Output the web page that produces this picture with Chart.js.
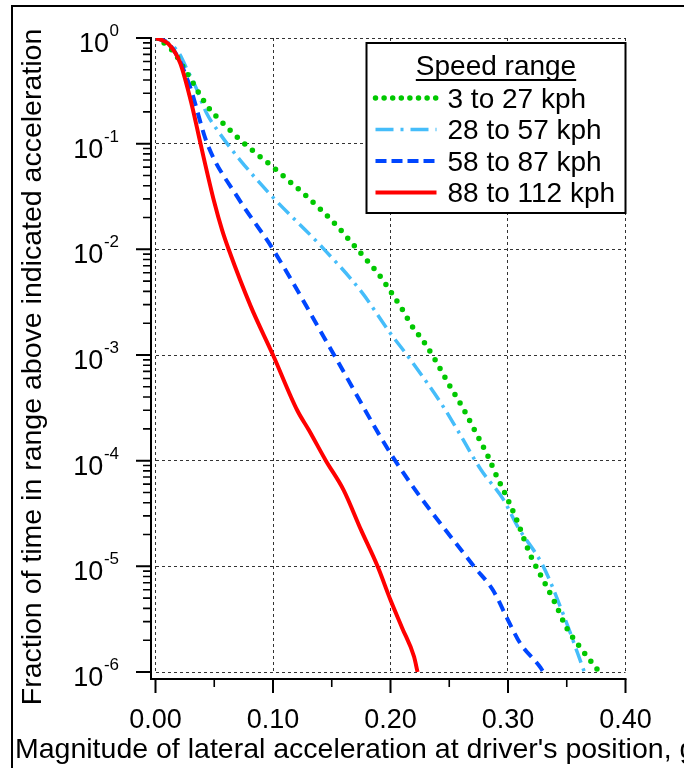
<!DOCTYPE html>
<html><head><meta charset="utf-8">
<script src="https://cdn.jsdelivr.net/npm/chart.js@4.4.1/dist/chart.umd.min.js"></script>
<style>html,body{margin:0;padding:0;background:#fff;overflow:hidden}canvas{display:block}</style>
</head><body>
<canvas id="c" width="684" height="768" style="width:684px;height:768px"></canvas>
<script>
// ---- data ----
const seriesLabels = ['3 to 27 kph', '28 to 57 kph', '58 to 87 kph', '88 to 112 kph'];

const greenX = [0, 0.007, 0.014, 0.0185, 0.025, 0.031, 0.0355, 0.045, 0.0575, 0.0715, 0.085, 0.1, 0.113, 0.127, 0.141, 0.155, 0.167, 0.179, 0.19, 0.2, 0.21, 0.218, 0.228, 0.237, 0.25, 0.262, 0.272, 0.283, 0.289, 0.299, 0.308, 0.319, 0.33, 0.34, 0.35, 0.36, 0.376, 0.378];
const greenY = [1, 0.9, 0.77, 0.66, 0.5, 0.39, 0.32, 0.22, 0.156, 0.11, 0.082, 0.06, 0.045, 0.033, 0.0236, 0.0164, 0.0115, 0.0081, 0.0058, 0.004, 0.0027, 0.0019, 0.00135, 0.00094, 0.00052, 0.00031, 0.00019, 0.00011, 7.7e-5, 4.5e-5, 2.65e-5, 1.28e-5, 7.4e-6, 4.5e-6, 2.6e-6, 1.8e-6, 1.06e-6, 1.0e-6];

const lightBlueX = [0, 0.011, 0.02, 0.027, 0.033, 0.0434, 0.0525, 0.072, 0.1, 0.14, 0.175, 0.2, 0.214, 0.243, 0.257, 0.277, 0.296, 0.308, 0.33, 0.348, 0.365];
const lightBlueY = [1, 0.9, 0.72, 0.5, 0.37, 0.195, 0.135, 0.07, 0.031, 0.011, 0.004, 0.0016, 0.001, 0.00035, 0.000195, 8.2e-5, 4.3e-5, 2.4e-5, 1.0e-5, 3.3e-6, 1.0e-6];

const blueX = [0, 0.011, 0.021, 0.0255, 0.03, 0.044, 0.07, 0.1, 0.152, 0.204, 0.271, 0.287, 0.3, 0.31, 0.3277, 0.33];
const blueY = [1, 0.89, 0.6, 0.45, 0.33, 0.1, 0.031, 0.01, 0.001, 0.0001, 1.0e-5, 6.0e-6, 3.1e-6, 1.9e-6, 1.1e-6, 1.0e-6];

const redX = [0, 0.011, 0.021, 0.031, 0.0383, 0.05, 0.0567, 0.0624, 0.081, 0.1, 0.1206, 0.1305, 0.145, 0.16, 0.175, 0.189, 0.2, 0.21, 0.22, 0.223];
const redY = [1, 0.88, 0.58, 0.23, 0.1, 0.028, 0.0152, 0.0099, 0.0029, 0.001, 0.0003, 0.000195, 0.0001, 5.3e-5, 2.2e-5, 1.0e-5, 4.8e-6, 2.6e-6, 1.4e-6, 1.0e-6];

const xTickValues = [0, 0.1, 0.2, 0.3, 0.4];
const xTickLabels = ['0.00', '0.10', '0.20', '0.30', '0.40'];
const xMinorTickValues = [0.05, 0.15, 0.25, 0.35];
const yTickValues = [1, 1e-1, 1e-2, 1e-3, 1e-4, 1e-5, 1e-6];
const yTickBase = '10';
const yTickExponents = ['0', '-1', '-2', '-3', '-4', '-5', '-6'];
const xTitle = "Magnitude of lateral acceleration at driver's position, g";
const yTitle = 'Fraction of time in range above indicated acceleration';
const legendTitle = 'Speed range';

const FONT = '"Liberation Sans", Arial, Helvetica, sans-serif';
const pts = (xs, ys) => xs.map((x, i) => ({x: x, y: ys[i]}));

const yMinorTickValues = [];
yTickValues.slice(1).forEach(d => { for (let m = 2; m <= 9; m++) yMinorTickValues.push(m * d); });

const decor = {
  id: 'decor',
  afterDraw(chart) {
    const ctx = chart.ctx, ca = chart.chartArea, xs = chart.scales.x, ys = chart.scales.y;
    const ax = ca.left - 4.5, ay = ca.bottom + 7;
    ctx.save();
    ctx.setLineDash([]);
    ctx.strokeStyle = '#000';
    ctx.fillStyle = '#000';
    // outer frame
    ctx.lineWidth = 2;
    ctx.strokeRect(12, 6, 900, 900);
    // axis lines
    ctx.beginPath();
    ctx.moveTo(ax, ys.getPixelForValue(yTickValues[0]) - 1);
    ctx.lineTo(ax, ay);
    ctx.lineTo(xs.getPixelForValue(xTickValues[xTickValues.length - 1]) + 1, ay);
    ctx.stroke();
    // major ticks
    ctx.beginPath();
    yTickValues.forEach(v => { const p = ys.getPixelForValue(v); ctx.moveTo(ax - 15, p); ctx.lineTo(ax, p); });
    xTickValues.forEach(v => { const p = xs.getPixelForValue(v); ctx.moveTo(p, ay); ctx.lineTo(p, ay + 14); });
    ctx.stroke();
    // minor ticks
    ctx.lineWidth = 1.6;
    ctx.beginPath();
    yMinorTickValues.forEach(v => { const p = ys.getPixelForValue(v); ctx.moveTo(ax - 8, p); ctx.lineTo(ax, p); });
    xMinorTickValues.forEach(v => { const p = xs.getPixelForValue(v); ctx.moveTo(p, ay); ctx.lineTo(p, ay + 8); });
    ctx.stroke();
    // x tick labels
    ctx.font = '27px ' + FONT;
    ctx.textAlign = 'center';
    ctx.textBaseline = 'alphabetic';
    xTickValues.forEach((v, i) => ctx.fillText(xTickLabels[i], xs.getPixelForValue(v), ay + 49));
    // y tick labels with superscript exponents
    const xr = ax - 32;
    ctx.textAlign = 'left';
    yTickValues.forEach((v, i) => {
      const p = ys.getPixelForValue(v);
      ctx.font = '17px ' + FONT;
      const we = ctx.measureText(yTickExponents[i]).width;
      ctx.fillText(yTickExponents[i], xr - we, p - 2);
      ctx.font = '27px ' + FONT;
      const wb = ctx.measureText(yTickBase).width;
      ctx.fillText(yTickBase, xr - we - wb - 0.5, p + 14);
    });
    // axis titles
    ctx.font = '28.5px ' + FONT;
    ctx.textAlign = 'left';
    ctx.fillText(xTitle, 15, 758);
    ctx.save();
    ctx.translate(33, 367);
    ctx.rotate(-Math.PI / 2);
    ctx.textAlign = 'center';
    ctx.textBaseline = 'middle';
    ctx.fillText(yTitle, 0, 0);
    ctx.restore();
    // legend
    const bw = 259, bh = 170;
    const bx = ca.right - bw, by = ca.top + 5;
    ctx.fillStyle = '#fff';
    ctx.fillRect(bx, by, bw, bh);
    ctx.fillStyle = '#000';
    ctx.lineWidth = 2;
    ctx.strokeRect(bx, by, bw, bh);
    ctx.font = '28px ' + FONT;
    ctx.textAlign = 'center';
    ctx.textBaseline = 'alphabetic';
    const tcx = bx + bw / 2;
    ctx.fillText(legendTitle, tcx, by + 32);
    const tw = ctx.measureText(legendTitle).width;
    ctx.beginPath();
    ctx.moveTo(tcx - tw / 2, by + 37);
    ctx.lineTo(tcx + tw / 2, by + 37);
    ctx.stroke();
    ctx.textAlign = 'left';
    chart.data.datasets.forEach((ds, i) => {
      const ly = by + 55 + i * 31.5;
      ctx.save();
      ctx.strokeStyle = ds.borderColor;
      ctx.lineWidth = ds.borderWidth;
      ctx.lineCap = ds.borderCapStyle || 'butt';
      ctx.setLineDash(ds.legendDash || ds.borderDash || []);
      ctx.beginPath();
      ctx.moveTo(bx + 9, ly);
      ctx.lineTo(bx + 70, ly);
      ctx.stroke();
      ctx.restore();
      ctx.fillText(ds.label, bx + 81, ly + 9.5);
    });
    ctx.restore();
  }
};

new Chart(document.getElementById('c'), {
  type: 'line',
  data: {
    datasets: [
      { label: seriesLabels[0], data: pts(greenX, greenY), borderColor: '#00c800', borderWidth: 5.5,
        borderDash: [0, 10], legendDash: [0, 8.6], borderCapStyle: 'round', order: 2 },
      { label: seriesLabels[1], data: pts(lightBlueX, lightBlueY), borderColor: '#45bdfa', borderWidth: 3.5,
        borderDash: [15, 6, 3, 6], legendDash: [18, 7, 3, 7], borderCapStyle: 'butt', order: 3 },
      { label: seriesLabels[2], data: pts(blueX, blueY), borderColor: '#0046ff', borderWidth: 4,
        borderDash: [11, 7], legendDash: [11, 5], borderCapStyle: 'butt', order: 1 },
      { label: seriesLabels[3], data: pts(redX, redY), borderColor: '#ff0000', borderWidth: 4,
        borderDash: [], borderCapStyle: 'butt', order: 0 }
    ]
  },
  options: {
    responsive: false,
    animation: false,
    events: [],
    layout: { padding: { left: 155.5, right: 58.5, top: 38, bottom: 96 } },
    elements: { point: { radius: 0 }, line: { tension: 0, cubicInterpolationMode: 'monotone', fill: false } },
    plugins: { legend: { display: false }, tooltip: { enabled: false }, title: { display: false } },
    scales: {
      x: {
        type: 'linear', min: 0, max: 0.4,
        afterBuildTicks: s => { s.ticks = xTickValues.map(v => ({value: v})); },
        afterFit: s => { s.height = 0; },
        ticks: { display: false },
        grid: { color: 'rgba(0,0,0,0.8)', lineWidth: 1, drawTicks: false },
        border: { display: false, dash: [3, 3] }
      },
      y: {
        type: 'logarithmic', min: 1e-6, max: 1,
        afterBuildTicks: s => { s.ticks = yTickValues.map(v => ({value: v})); },
        afterFit: s => { s.width = 0; },
        ticks: { display: false },
        grid: { color: 'rgba(0,0,0,0.8)', lineWidth: 1, drawTicks: false },
        border: { display: false, dash: [3, 3] }
      }
    }
  },
  plugins: [decor]
});
</script>
</body></html>
